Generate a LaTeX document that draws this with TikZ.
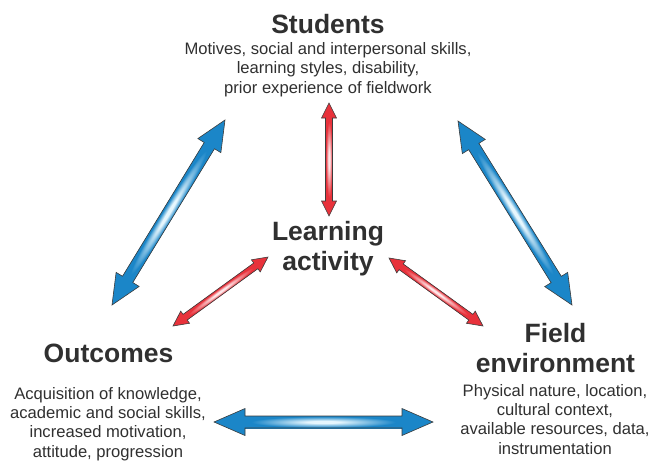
\documentclass[tikz,border=0pt]{standalone}
\usepackage{fontspec}
\setmainfont{Liberation Sans}
\definecolor{txt}{HTML}{303030}
\definecolor{bluedark}{HTML}{1B86C8}
\definecolor{bluelight}{HTML}{E6F6FD}
\definecolor{reddark}{HTML}{E8323B}
\definecolor{redlight}{HTML}{FDE6E8}
\definecolor{edge}{HTML}{3C3C3C}
\pgfdeclareradialshading{blueglow}{\pgfpoint{0bp}{0bp}}{color(0bp)=(bluelight); color(5bp)=(bluelight); color(23bp)=(bluedark); color(50bp)=(bluedark)}
\pgfdeclareradialshading{redglow}{\pgfpoint{0bp}{0bp}}{color(0bp)=(redlight); color(5bp)=(redlight); color(23bp)=(reddark); color(50bp)=(reddark)}
\makeatletter
% #1 from, #2 to, #3 dark colour, #4 shading, #5 shaft half width, #6 head half width, #7 head length
\newcommand\gradarrow[7]{%
  \pgfmathanglebetweenpoints{\pgfpointanchor{#1}{center}}{\pgfpointanchor{#2}{center}}%
  \edef\GAang{\pgfmathresult}%
  \pgfpointdiff{\pgfpointanchor{#1}{center}}{\pgfpointanchor{#2}{center}}%
  \pgfgetlastxy{\GAdx}{\GAdy}%
  \pgfmathveclen{\GAdx}{\GAdy}%
  \edef\GAlen{\pgfmathresult}%
  \begin{scope}[transform canvas={shift={(#1)},rotate=\GAang}]
    \def\GApoly{(0,0) -- (#7,#6) -- (#7,#5) -- ({\GAlen-#7},#5) -- ({\GAlen-#7},#6) -- (\GAlen,0)
      -- ({\GAlen-#7},-#6) -- ({\GAlen-#7},-#5) -- (#7,-#5) -- (#7,-#6) -- cycle}
    \fill[#3] \GApoly;
    \shade[shading=#4] (#7,-#5) rectangle ({\GAlen-#7},#5);
    \draw[draw=edge,line width=0.6pt,line join=miter] \GApoly;
  \end{scope}}
\makeatother
\begin{document}
\begin{tikzpicture}[x=1pt,y=-1pt,
  title/.style={font=\fontsize{26.5}{29.5}\selectfont\bfseries, text=txt, inner sep=0pt, anchor=base, align=center},
  sub/.style={font=\fontsize{16.6}{19.3}\selectfont, text=txt, inner sep=0pt, anchor=base, align=center}]
\useasboundingbox (0,0) rectangle (654,461);

% texts (anchor = baseline of the last line)
\node[title] (students) at (328,33) {Students};
\node[sub] (studentsD) at (328,93) {Motives, social and interpersonal skills,\\learning styles, disability,\\prior experience of fieldwork};
\node[title] (activity) at (328,270) {Learning\\activity};
\node[title] (outcomes) at (108.5,362) {Outcomes};
\node[sub] (outcomesD) at (108,457) {Acquisition of knowledge,\\academic and social skills,\\increased motivation,\\attitude, progression};
\node[title] (field) at (555.5,372) {Field\\environment};
\node[sub] (fieldD) at (555,454) {Physical nature, location,\\cultural context,\\available resources, data,\\instrumentation};

% arrow end points
\coordinate (sL) at (225,120);
\coordinate (oT) at (112,305);
\coordinate (sR) at (458,121);
\coordinate (fT) at (572,305);
\coordinate (oR) at (214,422);
\coordinate (fL) at (433,422);
\coordinate (sB) at (329,103);
\coordinate (aT) at (329,216);
\coordinate (aL) at (268,257);
\coordinate (oA) at (173,326);
\coordinate (aR) at (389,258);
\coordinate (fA) at (483,326);

% blue arrows
\gradarrow{oT}{sL}{bluedark}{blueglow}{6}{13.5}{30}
\gradarrow{sR}{fT}{bluedark}{blueglow}{6}{13.5}{30}
\gradarrow{oR}{fL}{bluedark}{blueglow}{6}{13.5}{31}
% red arrows
\gradarrow{sB}{aT}{reddark}{redglow}{3.5}{7.5}{15}
\gradarrow{oA}{aL}{reddark}{redglow}{3.5}{7.5}{15}
\gradarrow{aR}{fA}{reddark}{redglow}{3.5}{7.5}{15}
\end{tikzpicture}
\end{document}
